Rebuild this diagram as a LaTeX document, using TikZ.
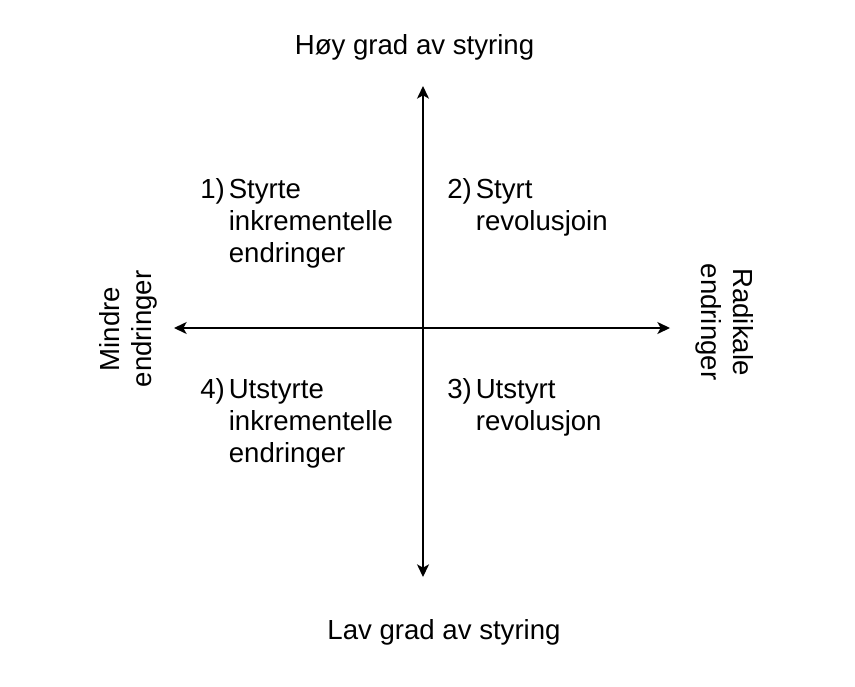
\documentclass[tikz,border=0pt]{standalone}
\usepackage{fontspec}
\setmainfont{Liberation Sans}
\usepackage{xcolor}
\usetikzlibrary{positioning,arrows.meta}
\tikzset{
  akse/.style={line width=1.1pt,{Stealth[length=9.5pt,width=9pt,inset=2.5pt]}-{Stealth[length=9.5pt,width=9pt,inset=2.5pt]}},
  merke/.style={font=\fontsize{20.7}{24}\selectfont,inner sep=0pt},
  kvadrant/.style={merke,anchor=base west,align=left}
}
\newcommand{\kvad}[2]{\begin{tabular}[t]{@{}l@{\hspace{3pt}}l@{}}#1&#2\end{tabular}}

\begin{document}
\begin{tikzpicture}[x=0.75pt,y=-0.75pt]
  \useasboundingbox (0,0) rectangle (855,686);
  % akser
  \coordinate (N) at (423,86);
  \coordinate (S) at (423,577);
  \coordinate (V) at (174,328);
  \coordinate (E) at (670,328);
  \draw[akse] (S) -- (N);
  \draw[akse] (V) -- (E);
  % aksetekster
  \node[merke,anchor=base] (hoy) at (414.5,54) {Høy grad av styring};
  \node[merke,anchor=base] (lav) at (444,639) {Lav grad av styring};
  \node[merke,rotate=90,align=center] (mindre) at (128,329) {Mindre\\endringer};
  \node[merke,rotate=-90,align=center] (radikal) at (725,322) {Radikale\\endringer};
  % kvadranter
  \node[kvadrant] (k1) at (200,198) {\kvad{1)}{Styrte\\&inkrementelle\\&endringer}};
  \node[kvadrant] (k2) at (447,198) {\kvad{2)}{Styrt\\&revolusjoin}};
  \node[kvadrant] (k3) at (447,398) {\kvad{3)}{Utstyrt\\&revolusjon}};
  \node[kvadrant] (k4) at (200,398) {\kvad{4)}{Utstyrte\\&inkrementelle\\&endringer}};
\end{tikzpicture}
\end{document}
